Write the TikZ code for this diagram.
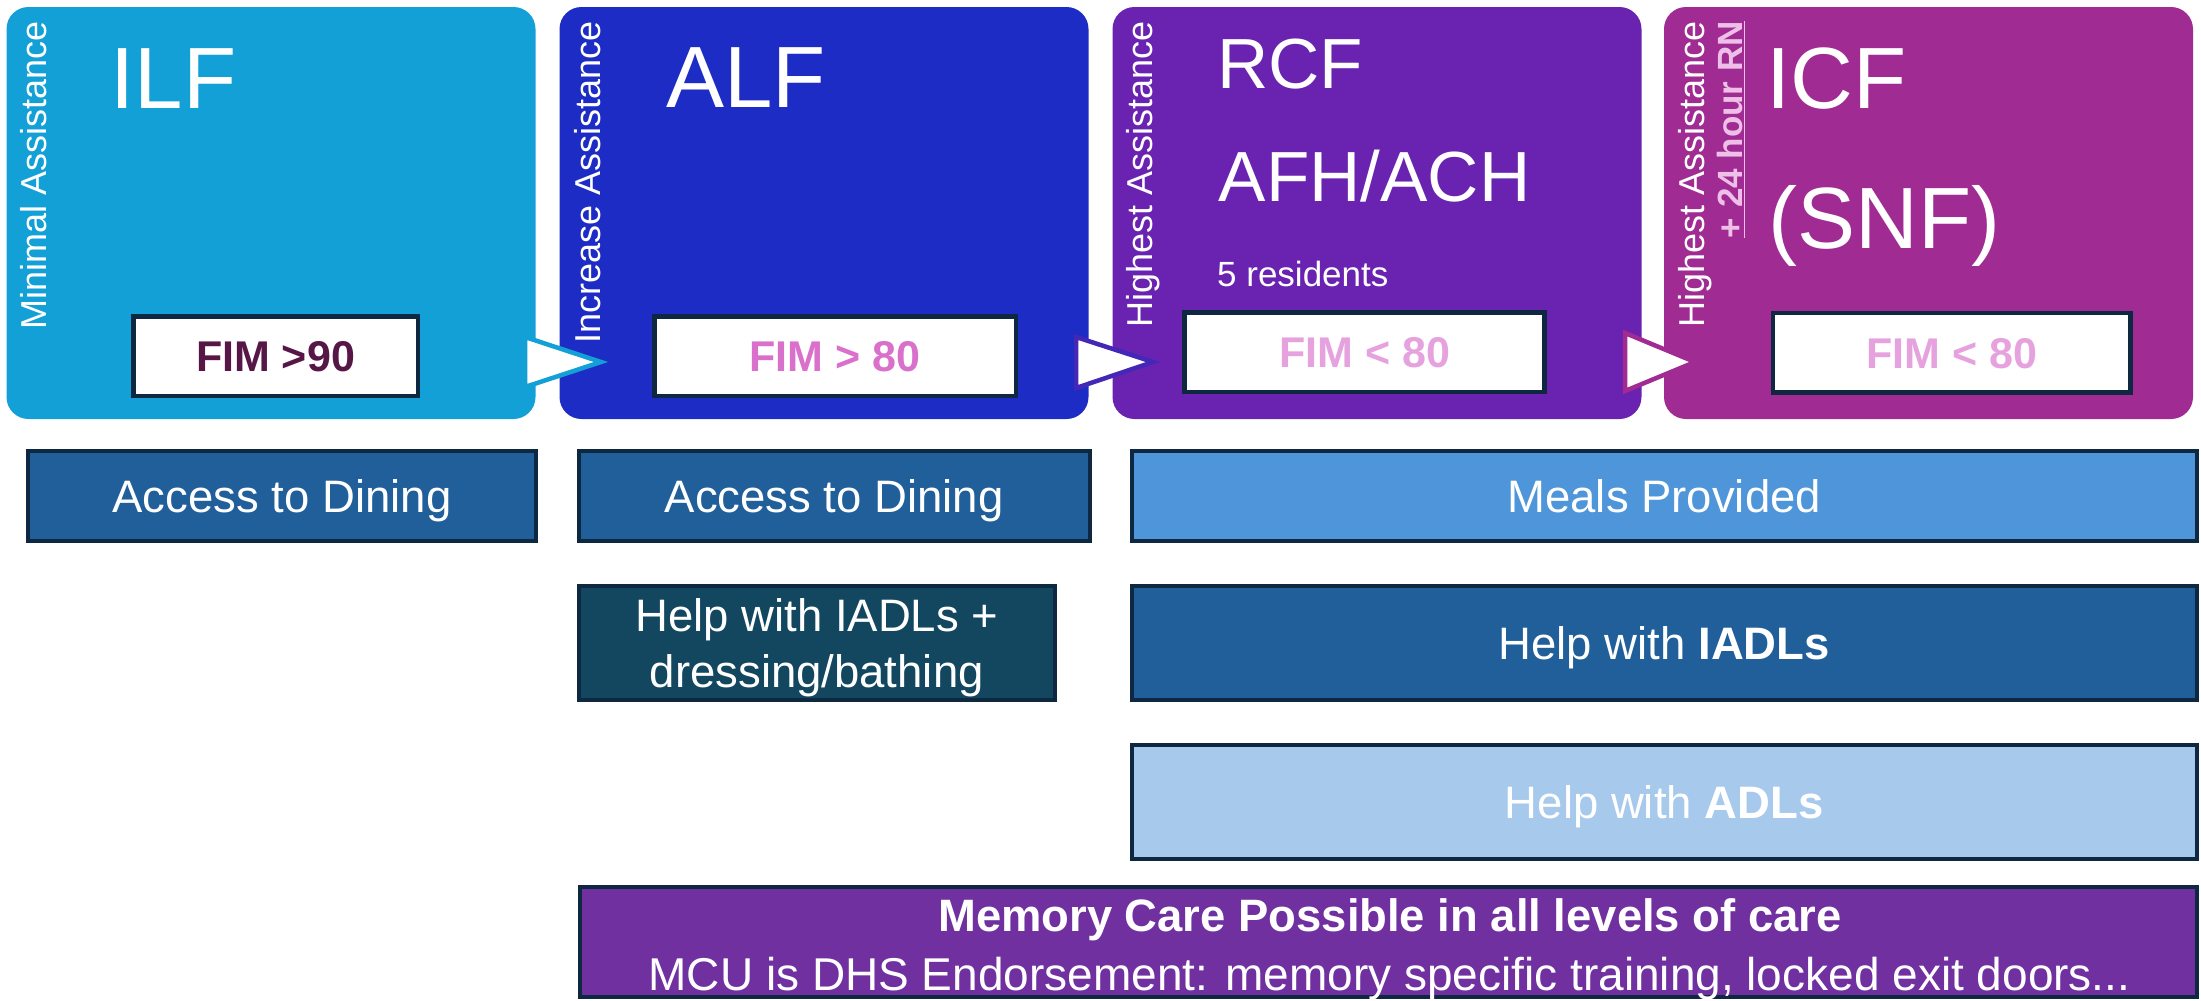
\documentclass[tikz,border=0pt]{standalone}
\usepackage{fontspec}
\setmainfont{Liberation Sans}
\usetikzlibrary{calc}
\definecolor{cILF}{HTML}{12A0D7}
\definecolor{cALF}{HTML}{1C2CC4}
\definecolor{cRCF}{HTML}{6A23B0}
\definecolor{cICF}{HTML}{A02B93}
\definecolor{cTriB}{HTML}{4527B8}
\definecolor{cFimA}{HTML}{561747}
\definecolor{cFimB}{HTML}{D970CC}
\definecolor{cFimC}{HTML}{E6A2DE}
\definecolor{cRN}{HTML}{EEC0E8}
\definecolor{cAcc}{HTML}{215F9A}
\definecolor{cDress}{HTML}{12475F}
\definecolor{cMeals}{HTML}{4E95D9}
\definecolor{cADL}{HTML}{A6C9EC}
\definecolor{cMem}{HTML}{7030A0}
\definecolor{cBorder}{HTML}{0E2841}
\begin{document}
\begin{tikzpicture}[x=1pt,y=-1pt,
  hdr/.style={rectangle, rounded corners=22pt, draw=none, inner sep=0pt, minimum height=412pt, minimum width=529pt},
  fimbox/.style={rectangle, fill=white, draw=cBorder, line width=4.5pt, minimum height=79.5pt, inner sep=0pt, font=\fontsize{43}{50}\selectfont\bfseries, text height=30.8pt, text depth=0pt},
  rowbox/.style={rectangle, draw=cBorder, line width=4pt, inner sep=0pt, text=white, font=\fontsize{45.5}{55.6}\selectfont, text height=32.6pt, text depth=0pt},
  vlab/.style={rotate=90, anchor=base east, inner sep=0pt, text=white, font=\fontsize{36}{43}\selectfont},
  big/.style={anchor=base west, inner sep=0pt, text=white, font=\fontsize{87}{100}\selectfont},
  mid/.style={anchor=base west, inner sep=0pt, text=white, font=\fontsize{71}{80}\selectfont},
  tri/.style={fill=white, line width=4.5pt, line join=miter},
  ln/.style={anchor=base, inner sep=0pt, text=white, font=\fontsize{45.5}{55.6}\selectfont}
]
\useasboundingbox (0,0) rectangle (2201,1001);

% header boxes
\node[hdr, fill=cILF] (ilf) at (271,213) {};
\node[hdr, fill=cALF] (alf) at (824,213) {};
\node[hdr, fill=cRCF] (rcf) at (1377,213) {};
\node[hdr, fill=cICF] (icf) at (1928.5,213) {};

% chevrons between header boxes
\draw[tri, draw=cILF] (525,337) -- (525,387) -- (601,362) -- cycle;
\draw[tri, draw=cTriB] (1076,337) -- (1076,388) -- (1153,362) -- cycle;
\draw[tri, draw=cICF] (1625,333) -- (1625,391) -- (1695,362) -- cycle;

% vertical labels
\node[vlab] (v1) at (46,21) {Minimal Assistance};
\node[vlab] (v2) at (600,21) {Increase Assistance};
\node[vlab] (v3) at (1152.5,21) {Highest Assistance};
\node[vlab] (v4) at (1704.4,21) {Highest Assistance};
\node[vlab, text=cRN, font=\fontsize{35}{42}\selectfont\bfseries] (v5) at (1742,21) {\underline{+ 24 hour RN}};

% header titles
\node[big] (t1) at (110.5,108) {ILF};
\node[big] (t2) at (666,107.3) {ALF};
\node[mid] (t3) at (1217,88.3) {RCF};
\node[mid] (t4) at (1218.6,201.7) {AFH/ACH};
\node[anchor=base west, inner sep=0pt, text=white, font=\fontsize{35}{42}\selectfont] (t5) at (1217,286) {5 residents};
\node[big] (t6) at (1766,108.3) {ICF};
\node[big] (t7) at (1768.4,248.5) {(SNF)};

% FIM boxes
\node[fimbox, text=cFimA, minimum width=284.5pt] (f1) at (275.5,356) {FIM >90};
\node[fimbox, text=cFimB, minimum width=361.5pt] (f2) at (835,356) {FIM > 80};
\node[fimbox, text=cFimC, minimum width=360.2pt] (f3) at (1364.6,352.2) {FIM < 80};
\node[fimbox, text=cFimC, minimum width=357.7pt] (f4) at (1951.7,352.9) {FIM < 80};

% rows
\node[rowbox, fill=cAcc, minimum width=508.9pt, minimum height=89.7pt] (a1) at (282,495.85) {Access to Dining};
\node[rowbox, fill=cAcc, minimum width=510.7pt, minimum height=89.7pt] (a2) at (834.15,495.85) {Access to Dining};
\node[rowbox, fill=cMeals, minimum width=1065.5pt, minimum height=89.7pt] (m1) at (1664.25,495.85) {Meals Provided};

\node[rowbox, fill=cDress, minimum width=475.9pt, minimum height=113.7pt] (d1) at (816.75,642.85) {};
\node[ln] (d1a) at (816.75,631.7) {Help with IADLs +};
\node[ln] (d1b) at (816.75,687.3) {dressing/bathing};

\node[rowbox, fill=cAcc, minimum width=1065.5pt, minimum height=113.7pt] (i1) at (1664.25,642.85) {Help with \textbf{IADLs}};
\node[rowbox, fill=cADL, minimum width=1065.5pt, minimum height=113.4pt] (l1) at (1664.25,802) {Help with \textbf{ADLs}};

\node[rowbox, fill=cMem, minimum width=1617.2pt, minimum height=110pt] (mc) at (1388.4,942) {};
\node[ln, font=\fontsize{45.4}{55}\selectfont\bfseries] (mca) at (1390,931.7) {Memory Care Possible in all levels of care};
\node[ln, font=\fontsize{46}{55}\selectfont] (mcb) at (1389.5,990) {MCU is DHS Endorsement: memory specific training, locked exit doors...};
\end{tikzpicture}
\end{document}
